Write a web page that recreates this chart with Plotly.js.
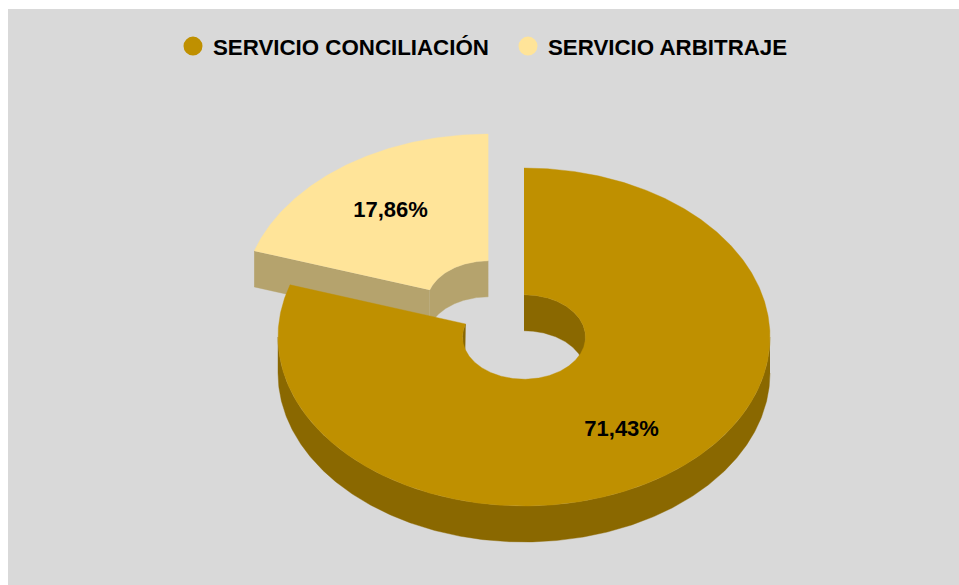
<!DOCTYPE html>
<html>
<head>
<meta charset="utf-8">
<script src="https://cdn.plot.ly/plotly-3.0.1.min.js"></script>
<style>html,body{margin:0;padding:0;background:#fff}</style>
</head>
<body>
<div id="chart" style="width:959px;height:585px"></div>
<script>
const categories = ["SERVICIO CONCILIACIÓN", "SERVICIO ARBITRAJE"];
const values = [71.43, 17.86];
const topColors = ["#BF9000", "#FFE499"];
const sideColors = ["#8A6800", "#B5A36D"];

const TOTAL = values.reduce((a, b) => a + b, 0);
const RX = 246, RY = 169, HOLE = 0.25, DEPTH = 36;
const CX = 524, CY = 337, EXPLODE = 61, LABEL_R = 0.675;
const FONT = "'Liberation Sans', Arial, sans-serif";

function pt(c, t, k, dz) {
  const a = t * Math.PI / 180;
  return [c[0] + k * RX * Math.sin(a), c[1] - k * RY * Math.cos(a) + (dz || 0)];
}
function arc(c, t0, t1, k, dz) {
  const n = Math.max(2, Math.ceil(Math.abs(t1 - t0) * 2)), out = [];
  for (let i = 0; i <= n; i++) out.push(pt(c, t0 + (t1 - t0) * i / n, k, dz));
  return out;
}
function patch(points, color) {
  return {
    type: "scatter", mode: "lines", fill: "toself", fillcolor: color,
    x: points.map(p => p[0]), y: points.map(p => p[1]),
    line: { width: 0.4, color: color }, hoverinfo: "skip", showlegend: false
  };
}
function band(c, t0, t1, k, color) {
  return patch(arc(c, t0, t1, k, 0).concat(arc(c, t1, t0, k, DEPTH)), color);
}
function ring(c, t0, t1) {
  return arc(c, t0, t1, 1, 0).concat(arc(c, t1, t0, HOLE, 0));
}

const split = 360 * values[0] / TOTAL;
const bigC = [CX, CY];
const bigMid = split / 2;
const smallMid = split + (360 - split) / 2;
const smallC = pt([CX, CY], smallMid, EXPLODE / RX, 0);
const traces = [];

// exploded slice: cut face, hole wall, top
const sa = pt(smallC, split, 1, 0), sb = pt(smallC, split, HOLE, 0);
traces.push(patch([sa, sb, [sb[0], sb[1] + DEPTH], [sa[0], sa[1] + DEPTH]], sideColors[1]));
traces.push(band(smallC, split, 360, HOLE, sideColors[1]));
traces.push(patch(ring(smallC, split, 360), topColors[1]));

// main slice: outer wall, hole walls, top
traces.push(band(bigC, 90, 270, 1, sideColors[0]));
traces.push(band(bigC, 0, 90, HOLE, sideColors[0]));
traces.push(band(bigC, 270, split, HOLE, sideColors[0]));
traces.push(patch(ring(bigC, 0, split), topColors[0]));

// value labels
const labelPts = [pt(bigC, bigMid, LABEL_R, 1), pt(smallC, smallMid, LABEL_R, 1)];
traces.push({
  type: "scatter", mode: "text",
  x: labelPts.map(p => p[0]), y: labelPts.map(p => p[1]),
  text: values.map(v => v.toFixed(2).replace(".", ",") + "%"),
  textposition: "middle center",
  textfont: { family: FONT, size: 22, color: "#000", weight: 700 },
  hoverinfo: "skip", showlegend: false
});

// legend entries
categories.forEach((name, i) => traces.push({
  type: "scatter", mode: "markers", name: name, x: [null], y: [null],
  marker: { symbol: "circle", size: 16, color: topColors[i], line: { width: 3, color: topColors[i] } }
}));

const layout = {
  width: 959, height: 585,
  margin: { l: 8, r: 0, t: 9, b: 0, pad: 0 },
  paper_bgcolor: "#FFFFFF", plot_bgcolor: "#D9D9D9",
  xaxis: { range: [8, 959], visible: false, fixedrange: true },
  yaxis: { range: [585, 9], visible: false, fixedrange: true },
  showlegend: true,
  legend: {
    orientation: "h", x: 0.1735, xanchor: "left", y: 0.972, yanchor: "top",
    entrywidth: 290, entrywidthmode: "pixels",
    bgcolor: "rgba(0,0,0,0)",
    font: { family: FONT, size: 22.3, color: "#000", weight: 700 }
  }
};
Plotly.newPlot("chart", traces, layout, { displayModeBar: false, staticPlot: true });
</script>
</body>
</html>
